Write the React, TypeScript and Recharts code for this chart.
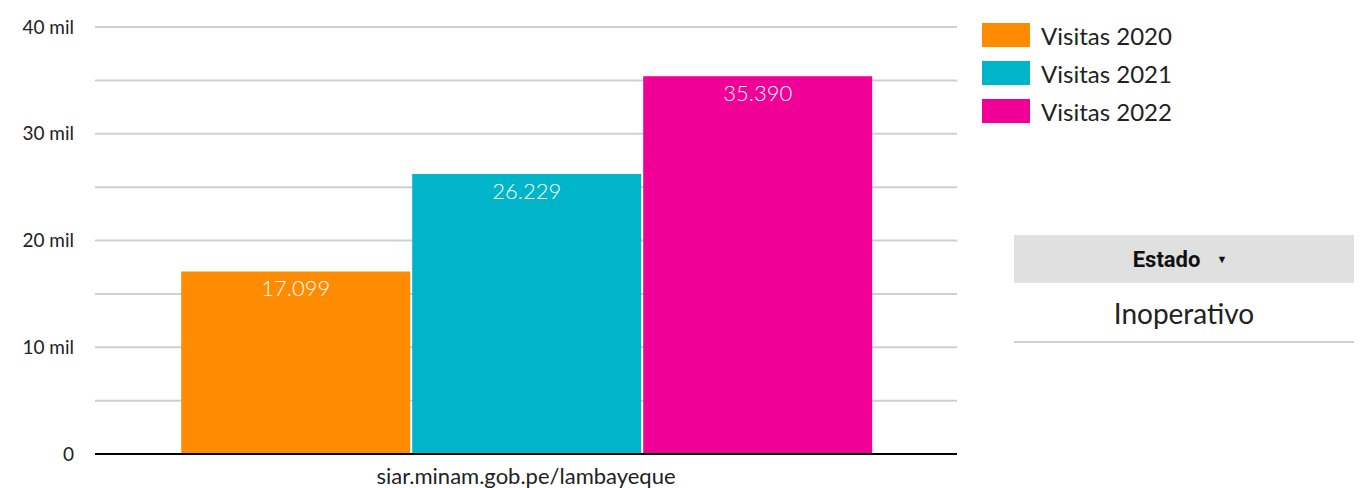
import React from 'react';
import { BarChart, Bar, XAxis, YAxis, CartesianGrid, LabelList } from 'recharts';

const categories = ['siar.minam.gob.pe/lambayeque'];
const visitas2020 = [17099];
const visitas2021 = [26229];
const visitas2022 = [35390];
const yTicks = [0, 5000, 10000, 15000, 20000, 25000, 30000, 35000, 40000];

const series = [
    { key: 'v2020', name: 'Visitas 2020', color: '#FF8C00', values: visitas2020 },
    { key: 'v2021', name: 'Visitas 2021', color: '#00B5CA', values: visitas2021 },
    { key: 'v2022', name: 'Visitas 2022', color: '#F00096', values: visitas2022 },
];

const data = categories.map((c, i) => {
    const row: Record<string, string | number> = { name: c };
    series.forEach((s) => { row[s.key] = s.values[i]; });
    return row;
});

const FONT = 'Lato, "Noto Sans", sans-serif';

const fmtTick = (v: number) => (v % 10000 === 0 ? (v === 0 ? '0' : `${v / 1000} mil`) : '');
const fmtValue = (v: number) => v.toLocaleString('de-DE');

function LegendBox() {
    return (
        <div style={{ position: 'absolute', left: 982, top: 16, fontFamily: FONT }}>
            {series.map((s) => (
                <div key={s.key} style={{ display: 'flex', alignItems: 'center', height: 38 }}>
                    <div style={{ width: 48, height: 24, background: s.color, marginRight: 11 }} />
                    <span style={{ fontSize: 24, color: '#222' }}>{s.name}</span>
                </div>
            ))}
        </div>
    );
}

export default function App() {
    return (
        <div style={{ position: 'absolute', left: 0, top: 0, width: 1366, height: 488, background: '#fff' }}>
            <BarChart
                width={958}
                height={488}
                data={data}
                margin={{ top: 27, right: 1, bottom: 4, left: 0 }}
                barCategoryGap="10%"
                barGap={2}
            >
                <CartesianGrid vertical={false} stroke="#d0d0d0" strokeWidth={2} />
                <XAxis
                    dataKey="name"
                    height={30}
                    tickLine={false}
                    axisLine={{ stroke: '#000', strokeWidth: 2 }}
                    tick={{ fontSize: 22, fill: '#222', fontFamily: FONT }}
                    tickMargin={8}
                />
                <YAxis
                    width={95}
                    domain={[0, 40000]}
                    ticks={yTicks}
                    interval={0}
                    tickFormatter={fmtTick}
                    tickLine={false}
                    axisLine={false}
                    tickSize={0}
                    tickMargin={21}
                    tick={{ fontSize: 19, fill: '#222', fontFamily: FONT }}
                />
                {series.map((s) => (
                    <Bar key={s.key} dataKey={s.key} name={s.name} fill={s.color} isAnimationActive={false}>
                        <LabelList
                            dataKey={s.key}
                            position="insideTop"
                            offset={9}
                            formatter={(v: number) => fmtValue(v)}
                            style={{ fill: '#fff', fontSize: 22, fontFamily: FONT, fontWeight: 300 }}
                        />
                    </Bar>
                ))}
            </BarChart>
            <LegendBox />
            <div style={{ position: 'absolute', left: 1014, top: 235, width: 340 }}>
                <div style={{ height: 48, background: '#e0e0e0', display: 'flex', alignItems: 'center', justifyContent: 'center', fontFamily: 'Roboto, sans-serif', fontWeight: 700, fontSize: 22, color: '#111', paddingRight: 8 }}>
                    Estado <span style={{ fontSize: 11, marginLeft: 16 }}>▼</span>
                </div>
                <div style={{ height: 60, display: 'flex', alignItems: 'center', justifyContent: 'center', fontFamily: FONT, fontSize: 28, color: '#222', borderBottom: '2px solid #d0d0d0', boxSizing: 'border-box', paddingTop: 2 }}>
                    Inoperativo
                </div>
            </div>
        </div>
    );
}
